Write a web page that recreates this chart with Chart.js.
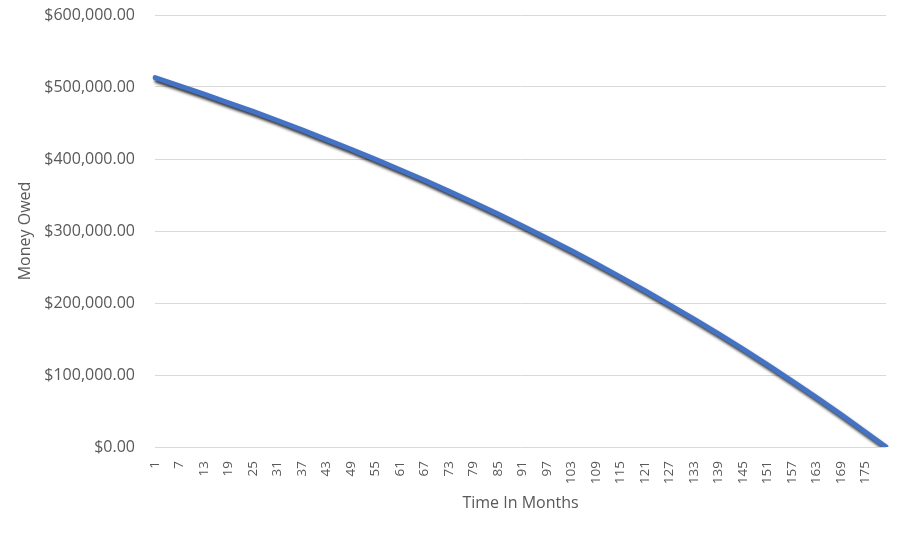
<!DOCTYPE html>
<html>
<head>
<meta charset="utf-8">
<script src="https://cdn.jsdelivr.net/npm/chart.js@4.4.1/dist/chart.umd.min.js"></script>
<style>
  html, body { margin: 0; padding: 0; background: #fff; }
  #wrap { width: 903px; height: 537px; }
</style>
</head>
<body>
<div id="wrap"><canvas id="loanChart" width="903" height="537"></canvas></div>
<script>
// month numbers on the category axis
let months = []
for (let m = 1; m <= 180; m++) months.push(String(m))

// balance at the labelled months
const readMonths = [1, 7, 13, 19, 25, 31, 37, 43, 49, 55, 61, 67, 73, 79, 85, 91,
    97, 103, 109, 115, 121, 127, 133, 139, 145, 151, 157, 163, 169, 175, 180]
const moneyOwed = [513000, 501500, 490000, 478000, 466000, 453500, 440500, 427000,
    413500, 399500, 385000, 370500, 355000, 339500, 323500, 307000,
    290000, 272500, 254500, 236000, 217000, 197500, 177500, 157000,
    136000, 114000, 91500, 68500, 45000, 20500, 0]

const yTicks = [0, 100000, 200000, 300000, 400000, 500000, 600000]

const textColor = '#595959'
const gridColor = '#d9d9d9'
const fontFamily = '"Open Sans", "Noto Sans", sans-serif'

function money(v) {
    return '$' + v.toLocaleString('en-US', {minimumFractionDigits: 2, maximumFractionDigits: 2})
}

// dark shadow under the line, like the spreadsheet style
const lineShadow = {
    id: 'lineShadow',
    beforeDatasetsDraw(chart) {
        const ctx = chart.ctx
        ctx.save()
        ctx.shadowColor = 'rgba(0, 0, 0, 0.8)'
        ctx.shadowBlur = 3
        ctx.shadowOffsetX = 2
        ctx.shadowOffsetY = 3
    },
    afterDatasetsDraw(chart) {
        chart.ctx.restore()
    }
}

const points = readMonths.map((m, i) => ({x: String(m), y: moneyOwed[i]}))

new Chart(document.getElementById('loanChart'), {
    type: 'line',
    data: {
        labels: months,
        datasets: [{
            label: 'Money Owed',
            data: points,
            borderColor: '#4472c4',
            borderWidth: 5,
            borderCapStyle: 'round',
            borderJoinStyle: 'round',
            pointRadius: 0,
            tension: 0,
            fill: false
        }]
    },
    options: {
        responsive: false,
        animation: false,
        layout: { padding: { top: 15, right: 17, left: 0, bottom: 0 } },
        plugins: {
            legend: { display: false },
            tooltip: { enabled: false }
        },
        scales: {
            x: {
                type: 'category',
                offset: false,
                grid: { display: false, drawTicks: false },
                border: { display: false },
                ticks: {
                    autoSkip: false,
                    minRotation: 90,
                    maxRotation: 90,
                    padding: 14,
                    color: textColor,
                    font: { family: fontFamily, size: 13.5 },
                    callback: function(value, index) {
                        return index % 6 === 0 ? this.getLabelForValue(value) : null
                    }
                },
                title: {
                    display: true,
                    text: 'Time In Months',
                    color: textColor,
                    font: { family: fontFamily, size: 16 },
                    padding: { top: 0, bottom: 24 }
                },
                afterFit: function(scale) { scale.height = 90 }
            },
            y: {
                min: 0,
                max: 600000,
                afterBuildTicks: function(scale) {
                    scale.ticks = yTicks.map(v => ({value: v}))
                },
                grid: { color: gridColor, lineWidth: 1, drawTicks: false },
                border: { display: false },
                ticks: {
                    padding: 20,
                    color: textColor,
                    font: { family: fontFamily, size: 16 },
                    callback: function(value) { return money(value) }
                },
                title: {
                    display: true,
                    text: 'Money Owed',
                    color: textColor,
                    font: { family: fontFamily, size: 16 },
                    padding: { top: 16, bottom: 0 }
                },
                afterFit: function(scale) {
                    scale.width = 155
                    scale.paddingTop = 0
                    scale.paddingBottom = 0
                }
            }
        }
    },
    plugins: [lineShadow]
})
</script>
</body>
</html>
